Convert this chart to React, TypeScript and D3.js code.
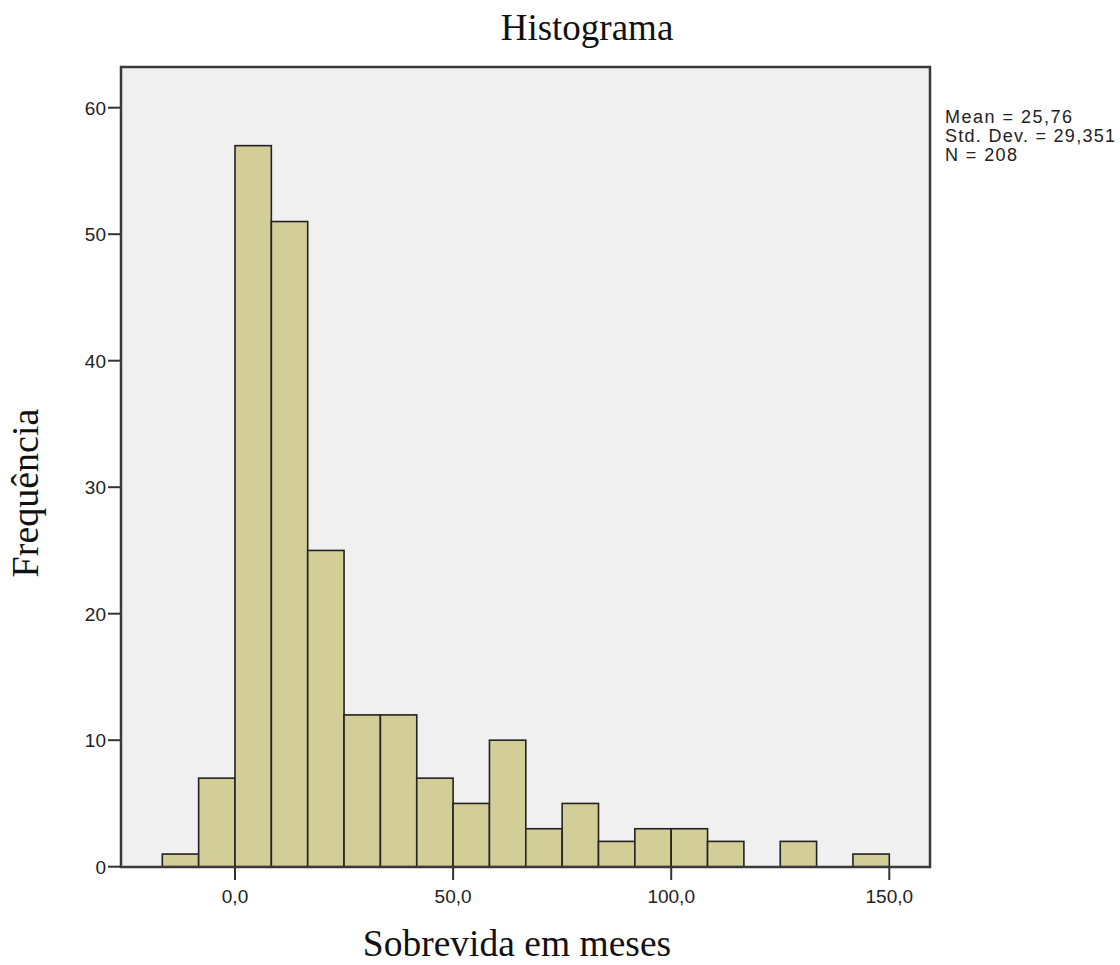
import React from "react";
import * as d3 from "d3";

const binStart = -16.6667;
const binWidth = 8.3333;
const counts = [1, 7, 57, 51, 25, 12, 12, 7, 5, 10, 3, 5, 2, 3, 3, 2, 0, 2, 0, 1];
const yTicks = [0, 10, 20, 30, 40, 50, 60];
const xTicks = [0, 50, 100, 150];
const statLines = ["Mean = 25,76", "Std. Dev. = 29,351", "N = 208"];
const statWidths = [127, 170, 72];

export default function App() {
  const W = 1120, H = 965;
  const left = 121, right = 930, top = 67, bottom = 867;
  const x = d3.scaleLinear().domain([0, 150]).range([235, 889.3]);
  const y = d3.scaleLinear().domain([0, 60]).range([866.7, 107.7]);
  const fmt = (v: number) => v.toFixed(1).replace(".", ",");
  const bins = counts.map((c, i) => ({ x0: binStart + i * binWidth, x1: binStart + (i + 1) * binWidth, c }));
  const sans = "Liberation Sans, Arial, sans-serif";
  const serif = "Liberation Serif, Times New Roman, serif";
  return (
    <svg width={W} height={H} style={{ position: "absolute", left: 0, top: 0, background: "#fff" }}>
      <rect x={left} y={top} width={right - left} height={bottom - top} fill="#f0f0f0" />
      {bins.filter(b => b.c > 0).map((b, i) => (
        <rect key={i} x={x(b.x0)} y={y(b.c)} width={x(b.x1) - x(b.x0)} height={y(0) - y(b.c)}
          fill="#d3ce98" stroke="#222" strokeWidth={1.6} />
      ))}
      <rect x={left} y={top} width={right - left} height={bottom - top} fill="none" stroke="#3a3a3a" strokeWidth={2.5} />
      {yTicks.map(t => (
        <g key={t}>
          <line x1={108} x2={left} y1={y(t)} y2={y(t)} stroke="#333" strokeWidth={2} />
          <text x={106} y={y(t)} dy="0.36em" textAnchor="end" fontFamily={sans} fontSize={19} fill="#222">{t}</text>
        </g>
      ))}
      {xTicks.map(t => (
        <g key={t}>
          <line x1={x(t)} x2={x(t)} y1={bottom} y2={880} stroke="#333" strokeWidth={2} />
          <text x={x(t)} y={903} textAnchor="middle" fontFamily={sans} fontSize={19} fill="#222">{fmt(t)}</text>
        </g>
      ))}
      <text x={587} y={40} textAnchor="middle" fontFamily={serif} fontSize={37} fill="#111">Histograma</text>
      <text x={517} y={956} textAnchor="middle" fontFamily={serif} fontSize={37.5} fill="#111">Sobrevida em meses</text>
      <text transform={`translate(38,493) rotate(-90)`} textAnchor="middle" fontFamily={serif} fontSize={38} fill="#111">Frequência</text>
      {statLines.map((s, i) => (
        <text key={i} x={945} y={123 + i * 19} fontFamily={sans} fontSize={18} fill="#222"
          textLength={statWidths[i]} lengthAdjust="spacing">{s}</text>
      ))}
    </svg>
  );
}
